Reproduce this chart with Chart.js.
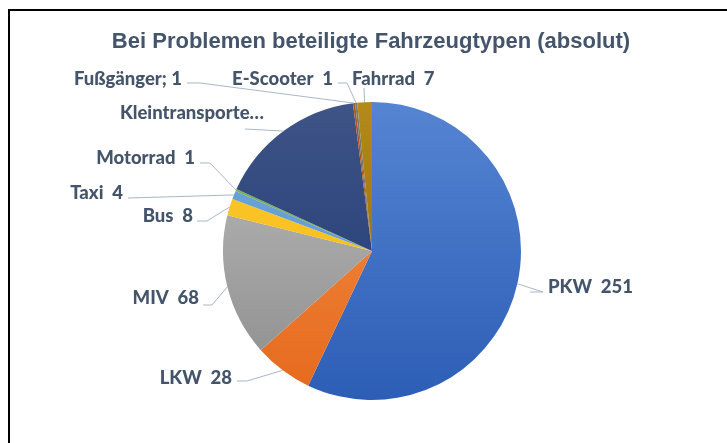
<!DOCTYPE html>
<html>
<head>
<meta charset="utf-8">
<script src="https://cdn.jsdelivr.net/npm/chart.js@4/dist/chart.umd.min.js"></script>
<style>
  html, body { margin: 0; padding: 0; background: #fff; }
  #wrap { position: relative; width: 727px; height: 443px; }
</style>
</head>
<body>
<div id="wrap"><canvas id="c" width="727" height="443"></canvas></div>
<script>
// ---- data ----
const categories = ['PKW', 'LKW', 'MIV', 'Bus', 'Taxi', 'Motorrad', 'Kleintransporter', 'Fußgänger', 'E-Scooter', 'Fahrrad'];
const values = [251, 28, 68, 8, 4, 1, 71, 1, 1, 7];
const labelTexts = ['PKW  251', 'LKW  28', 'MIV  68', 'Bus  8', 'Taxi  4', 'Motorrad  1', 'Kleintransporte…', 'Fußgänger; 1', 'E-Scooter  1', 'Fahrrad  7'];
const titleText = 'Bei Problemen beteiligte Fahrzeugtypen (absolut)';

// ---- styles ----
const gradColors = [
  ['#5584D2', '#2D5EB6'],
  ['#F5914A', '#E5691C'],
  ['#BDBDBD', '#8C8C8C'],
  ['#FFCB3A', '#F2B500'],
  ['#74ABDD', '#4E8CC8'],
  ['#80BC58', '#5E9A3A'],
  ['#3F5487', '#1B3872'],
  ['#B5561A', '#8A3C0A'],
  ['#7A7A7A', '#555555'],
  ['#B38A1A', '#8A6700']
];
// label layout: text anchor x, y, alignment, and elbow point of the leader line
const labelLayout = [
  { x: 548, y: 287, align: 'left',  elbow: [543, 292], end: [530, 292] },
  { x: 232, y: 378, align: 'right', elbow: [247, 381], end: [237, 381] },
  { x: 199, y: 298, align: 'right', elbow: [212, 305], end: [203, 305] },
  { x: 193, y: 216, align: 'right', elbow: [207, 221], end: [197, 221] },
  { x: 123, y: 193, align: 'right', elbow: [128, 198], end: [128, 198] },
  { x: 195, y: 158, align: 'right', elbow: [210, 163], end: [200, 163] },
  { x: 264, y: 113, align: 'right', elbow: [245, 129], end: [245, 129] },
  { x: 182, y: 79,  align: 'right', elbow: [200, 83],  end: [187, 83] },
  { x: 333, y: 79,  align: 'right', elbow: [347, 83],  end: [338, 83] },
  { x: 352, y: 79,  align: 'left',  elbow: [364, 88],  end: [364, 88] }
];
const textColor = '#44546A';
const lineColor = '#A9B7CA';
const labelFont = '900 18.5px Lato, "Open Sans", sans-serif';

const framePlugin = {
  id: 'frame',
  beforeDraw(chart) {
    const ctx = chart.ctx;
    ctx.save();
    ctx.fillStyle = '#fff';
    ctx.fillRect(0, 0, chart.width, chart.height);
    ctx.strokeStyle = '#000';
    ctx.lineWidth = 2;
    ctx.beginPath();
    ctx.moveTo(9, chart.height);
    ctx.lineTo(9, 10);
    ctx.lineTo(chart.width, 10);
    ctx.stroke();
    ctx.fillStyle = textColor;
    ctx.font = 'bold 22px "Liberation Sans", Arial, sans-serif';
    ctx.textAlign = 'center';
    ctx.textBaseline = 'middle';
    ctx.fillText(titleText, 371, 42);
    ctx.restore();
  }
};

const labelPlugin = {
  id: 'outLabels',
  afterDatasetsDraw(chart) {
    const ctx = chart.ctx;
    const meta = chart.getDatasetMeta(0);
    ctx.save();
    meta.data.forEach((arc, i) => {
      const p = arc.getProps(['x', 'y', 'startAngle', 'endAngle', 'outerRadius'], true);
      const mid = (p.startAngle + p.endAngle) / 2;
      const sx = p.x + Math.cos(mid) * p.outerRadius;
      const sy = p.y + Math.sin(mid) * p.outerRadius;
      const L = labelLayout[i];
      ctx.strokeStyle = lineColor;
      ctx.lineWidth = 1;
      ctx.beginPath();
      ctx.moveTo(sx, sy);
      ctx.lineTo(L.elbow[0], L.elbow[1]);
      ctx.lineTo(L.end[0], L.end[1]);
      ctx.stroke();
      ctx.fillStyle = textColor;
      ctx.font = labelFont;
      ctx.textAlign = L.align;
      ctx.textBaseline = 'middle';
      ctx.fillText(labelTexts[i], L.x, L.y);
    });
    ctx.restore();
  }
};

new Chart(document.getElementById('c'), {
  type: 'pie',
  data: {
    labels: categories,
    datasets: [{
      data: values,
      borderWidth: 0,
      backgroundColor: (context) => {
        const chart = context.chart;
        const area = chart.chartArea;
        const c = gradColors[context.dataIndex % gradColors.length];
        if (!area) return c[0];
        const g = chart.ctx.createLinearGradient(0, area.top, 0, area.bottom);
        g.addColorStop(0, c[0]);
        g.addColorStop(1, c[1]);
        return g;
      }
    }]
  },
  options: {
    responsive: false,
    animation: false,
    devicePixelRatio: 1,
    layout: { padding: { left: 223, right: 206, top: 102, bottom: 43 } },
    plugins: {
      legend: { display: false },
      title: { display: false },
      tooltip: { enabled: false }
    }
  },
  plugins: [framePlugin, labelPlugin]
});
</script>
</body>
</html>
